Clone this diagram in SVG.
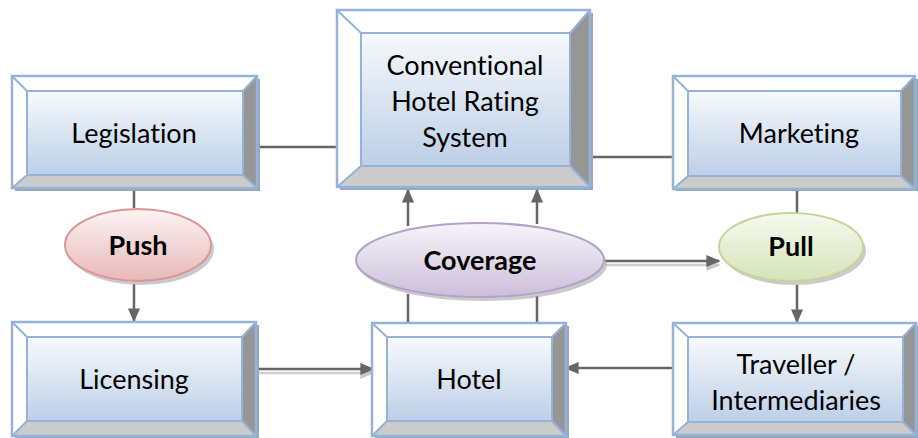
<svg xmlns="http://www.w3.org/2000/svg" width="918" height="438" viewBox="0 0 918 438">
<defs>
<linearGradient id="face" x1="0" y1="0" x2="0" y2="1">
<stop offset="0" stop-color="#f7f9fc"/><stop offset="1" stop-color="#bccfe7"/>
</linearGradient>
<linearGradient id="gPush" x1="0" y1="0" x2="0" y2="1">
<stop offset="0" stop-color="#fdf3f3"/><stop offset="1" stop-color="#e6b9b8"/>
</linearGradient>
<linearGradient id="gCov" x1="0" y1="0" x2="0" y2="1">
<stop offset="0" stop-color="#f6f4f9"/><stop offset="1" stop-color="#cbbfda"/>
</linearGradient>
<linearGradient id="gPull" x1="0" y1="0" x2="0" y2="1">
<stop offset="0" stop-color="#f6faef"/><stop offset="1" stop-color="#d5e3b9"/>
</linearGradient>
<marker id="ah" viewBox="0 0 10 10" refX="9" refY="5" markerWidth="14" markerHeight="14" markerUnits="userSpaceOnUse" orient="auto">
<path d="M0,0.7 L10,5 L0,9.3 Z" fill="#666"/>
</marker>
<marker id="ahs" viewBox="0 0 10 10" refX="9" refY="5" markerWidth="14" markerHeight="14" markerUnits="userSpaceOnUse" orient="auto">
<path d="M0,0.7 L10,5 L0,9.3 Z" fill="#c8c8c8"/>
</marker>
</defs>
<style>
.ln{stroke:#666;stroke-width:2.5;fill:none}
.sh{stroke:#cfcfcf;stroke-width:2.5;fill:none}
.out{fill:none;stroke:#95b3d7;stroke-width:2.5}
.tp{fill:#ffffff}
.lf{fill:#ffffff}
.rt{fill:#969696}
.bt{fill:#cbcbcb}
.fc{fill:url(#face);stroke:#95b3d7;stroke-width:2}
.bx{fill:#95a6bd}
.edge{stroke:#95b3d7;stroke-width:2}
.t{font-family:Lato,"Liberation Sans",sans-serif;font-size:27px;fill:#000;text-anchor:middle;font-variant-ligatures:none}
.b{font-family:Lato,"Liberation Sans",sans-serif;font-size:27px;font-weight:bold;fill:#000;text-anchor:middle;font-variant-ligatures:none}
.esh{fill:#a6a6a6;opacity:0.6}
</style>

<g id="connectors">
<line class="ln" x1="257" y1="147" x2="337" y2="147"/>
<line class="ln" x1="590" y1="157" x2="673" y2="157"/>
<line class="ln" x1="134" y1="190" x2="134" y2="208"/>
<line class="ln" x1="134" y1="284" x2="134" y2="321" marker-end="url(#ah)"/>
<line class="ln" x1="797" y1="190" x2="797" y2="216"/>
<line class="ln" x1="797" y1="285" x2="797" y2="322" marker-end="url(#ah)"/>
<line class="ln" x1="408" y1="323" x2="408" y2="294"/>
<line class="ln" x1="537" y1="323" x2="537" y2="296"/>
<line class="ln" x1="408" y1="226" x2="408" y2="190" marker-end="url(#ah)"/>
<line class="ln" x1="537" y1="224" x2="537" y2="190" marker-end="url(#ah)"/>
<line class="sh" x1="605" y1="265" x2="719" y2="265" marker-end="url(#ahs)"/>
<line class="ln" x1="605" y1="261" x2="719" y2="261" marker-end="url(#ah)"/>
<line class="sh" x1="258" y1="373" x2="373" y2="373" marker-end="url(#ahs)"/>
<line class="ln" x1="258" y1="369" x2="373" y2="369" marker-end="url(#ah)"/>
<line class="ln" x1="673" y1="368" x2="566" y2="368" marker-end="url(#ah)"/>
</g>

<g id="legislation">
<rect class="bx" x="15" y="79" width="245" height="112"/>
<polygon class="tp" points="12,76 257,76 243,91 27,91"/>
<polygon class="lf" points="12,76 27,91 27,175 12,188"/>
<polygon class="rt" points="257,76 257,188 243,175 243,91"/>
<polygon class="bt" points="12,188 257,188 243,175 27,175"/>
<rect class="fc" x="27" y="91" width="216" height="84"/>
<path class="edge" d="M12,76 L27,91 M257,76 L243,91 M12,188 L27,175 M257,188 L243,175"/>
<rect class="out" x="12" y="76" width="245" height="112"/>
<text class="t" x="134" y="143">Legislation</text>
</g>

<g id="conventional">
<rect class="bx" x="340" y="13" width="253" height="177"/>
<polygon class="tp" points="337,10 590,10 570,33 361,33"/>
<polygon class="lf" points="337,10 361,33 361,166 337,187"/>
<polygon class="rt" points="590,10 590,187 570,166 570,33"/>
<polygon class="bt" points="337,187 590,187 570,166 361,166"/>
<rect class="fc" x="361" y="33" width="209" height="133"/>
<path class="edge" d="M337,10 L361,33 M590,10 L570,33 M337,187 L361,166 M590,187 L570,166"/>
<rect class="out" x="337" y="10" width="253" height="177"/>
<text class="t" x="465" y="75">Conventional</text>
<text class="t" x="465" y="111">Hotel Rating</text>
<text class="t" x="465" y="147">System</text>
</g>

<g id="marketing">
<rect class="bx" x="676" y="79" width="242" height="112"/>
<polygon class="tp" points="673,76 915,76 901,91 688,91"/>
<polygon class="lf" points="673,76 688,91 688,176 673,189"/>
<polygon class="rt" points="915,76 915,189 901,176 901,91"/>
<polygon class="bt" points="673,189 915,189 901,176 688,176"/>
<rect class="fc" x="688" y="91" width="213" height="85"/>
<path class="edge" d="M673,76 L688,91 M915,76 L901,91 M673,189 L688,176 M915,189 L901,176"/>
<rect class="out" x="673" y="76" width="242" height="113"/>
<text class="t" x="799" y="143">Marketing</text>
</g>

<g id="licensing">
<rect class="bx" x="15" y="325" width="244" height="113"/>
<polygon class="tp" points="12,322 256,322 242,337 27,337"/>
<polygon class="lf" points="12,322 27,337 27,421 12,436"/>
<polygon class="rt" points="256,322 256,436 242,421 242,337"/>
<polygon class="bt" points="12,436 256,436 242,421 27,421"/>
<rect class="fc" x="27" y="337" width="215" height="84"/>
<path class="edge" d="M12,322 L27,337 M256,322 L242,337 M12,436 L27,421 M256,436 L242,421"/>
<rect class="out" x="12" y="322" width="244" height="114"/>
<text class="t" x="134" y="389">Licensing</text>
</g>

<g id="hotel">
<rect class="bx" x="375" y="326" width="194" height="112"/>
<polygon class="tp" points="372,323 566,323 552,337 387,337"/>
<polygon class="lf" points="372,323 387,337 387,421 372,436"/>
<polygon class="rt" points="566,323 566,436 552,421 552,337"/>
<polygon class="bt" points="372,436 566,436 552,421 387,421"/>
<rect class="fc" x="387" y="337" width="165" height="84"/>
<path class="edge" d="M372,323 L387,337 M566,323 L552,337 M372,436 L387,421 M566,436 L552,421"/>
<rect class="out" x="372" y="323" width="194" height="113"/>
<text class="t" x="469" y="389">Hotel</text>
</g>

<g id="traveller">
<rect class="bx" x="676" y="326" width="242" height="112"/>
<polygon class="tp" points="673,323 916,323 903,337 688,337"/>
<polygon class="lf" points="673,323 688,337 688,422 673,435"/>
<polygon class="rt" points="916,323 916,435 903,422 903,337"/>
<polygon class="bt" points="673,435 916,435 903,422 688,422"/>
<rect class="fc" x="688" y="337" width="215" height="85"/>
<path class="edge" d="M673,323 L688,337 M916,323 L903,337 M673,435 L688,422 M916,435 L903,422"/>
<rect class="out" x="673" y="323" width="243" height="112"/>
<text class="t" x="796" y="374">Traveller /</text>
<text class="t" x="796" y="410">Intermediaries</text>
</g>

<g id="push">
<ellipse class="esh" cx="141" cy="249" rx="73" ry="36"/>
<ellipse cx="138" cy="245" rx="73" ry="36" fill="url(#gPush)" stroke="#d99694" stroke-width="2"/>
<text class="b" x="138" y="255">Push</text>
</g>

<g id="coverage">
<ellipse class="esh" cx="483" cy="264" rx="124" ry="37"/>
<ellipse cx="480" cy="260" rx="124" ry="37" fill="url(#gCov)" stroke="#b3a2c7" stroke-width="2"/>
<text class="b" x="480" y="270">Coverage</text>
</g>

<g id="pull">
<ellipse class="esh" cx="794" cy="251" rx="72" ry="34"/>
<ellipse cx="791" cy="247" rx="72" ry="34" fill="url(#gPull)" stroke="#c3d69b" stroke-width="2"/>
<text class="b" x="791" y="256">Pull</text>
</g>
</svg>
